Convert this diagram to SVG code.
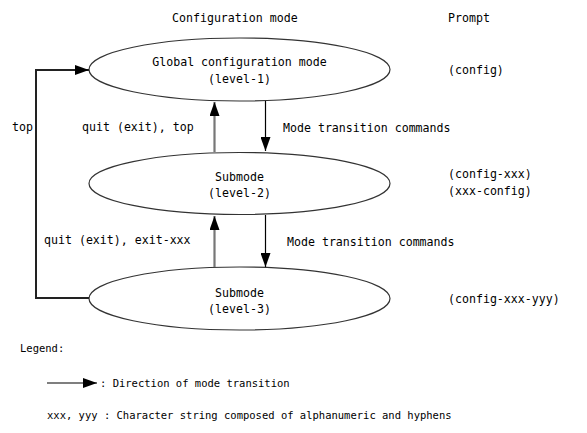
<svg xmlns="http://www.w3.org/2000/svg" width="587" height="433" viewBox="0 0 587 433">
<style>
text{font-family:"DejaVu Sans Mono","Liberation Mono",monospace;font-size:11.6px;fill:#000}
.lg{font-size:10.5px}
.mid{text-anchor:middle}
.node ellipse{fill:#fff;stroke:#333;stroke-width:1.2}
.down{stroke:#000;stroke-width:1.2;fill:none}
.up{stroke:#777;stroke-width:2.2;fill:none}
.loop{stroke:#222;stroke-width:2;fill:none}
</style>
<defs>
<marker id="ah" markerWidth="14" markerHeight="10" refX="14" refY="5" orient="auto" markerUnits="userSpaceOnUse">
<path d="M0,0 L14,5 L0,10 Z" fill="#000"/>
</marker>
</defs>
<text x="172" y="22">Configuration mode</text>
<text x="448" y="22">Prompt</text>
<g id="level1" class="node">
<ellipse cx="239.5" cy="69.5" rx="150.5" ry="31.5"/>
<text class="mid" x="239.5" y="66">Global configuration mode</text>
<text class="mid" x="239.5" y="83">(level-1)</text>
</g>
<g id="level2" class="node">
<ellipse cx="239.5" cy="183.5" rx="150.5" ry="31"/>
<text class="mid" x="239.5" y="181">Submode</text>
<text class="mid" x="239.5" y="197">(level-2)</text>
</g>
<g id="level3" class="node">
<ellipse cx="239.5" cy="298.5" rx="150.5" ry="31.5"/>
<text class="mid" x="239.5" y="297">Submode</text>
<text class="mid" x="239.5" y="313">(level-3)</text>
</g>
<g id="connectors">
<line class="up" x1="214.5" y1="152" x2="214.5" y2="102" marker-end="url(#ah)"/>
<line class="down" x1="265.5" y1="101" x2="265.5" y2="151" marker-end="url(#ah)"/>
<line class="up" x1="214.5" y1="267" x2="214.5" y2="216" marker-end="url(#ah)"/>
<line class="down" x1="265.5" y1="215" x2="265.5" y2="267" marker-end="url(#ah)"/>
<polyline class="loop" points="89,298 36,298 36,70 89,70" marker-end="url(#ah)"/>
</g>
<g id="labels">
<text x="12" y="131">top</text>
<text x="82" y="131">quit (exit), top</text>
<text x="283" y="132">Mode transition commands</text>
<text x="44" y="244">quit (exit), exit-xxx</text>
<text x="287" y="246">Mode transition commands</text>
</g>
<g id="prompts">
<text x="448" y="74">(config)</text>
<text x="448" y="178">(config-xxx)</text>
<text x="448" y="195">(xxx-config)</text>
<text x="448" y="303">(config-xxx-yyy)</text>
</g>
<g id="legend">
<text class="lg" x="20" y="352">Legend:</text>
<line class="down" x1="47" y1="383" x2="97" y2="383" marker-end="url(#ah)"/>
<text class="lg" x="100" y="387">: Direction of mode transition</text>
<text class="lg" x="47" y="419">xxx, yyy : Character string composed of alphanumeric and hyphens</text>
</g>
</svg>
